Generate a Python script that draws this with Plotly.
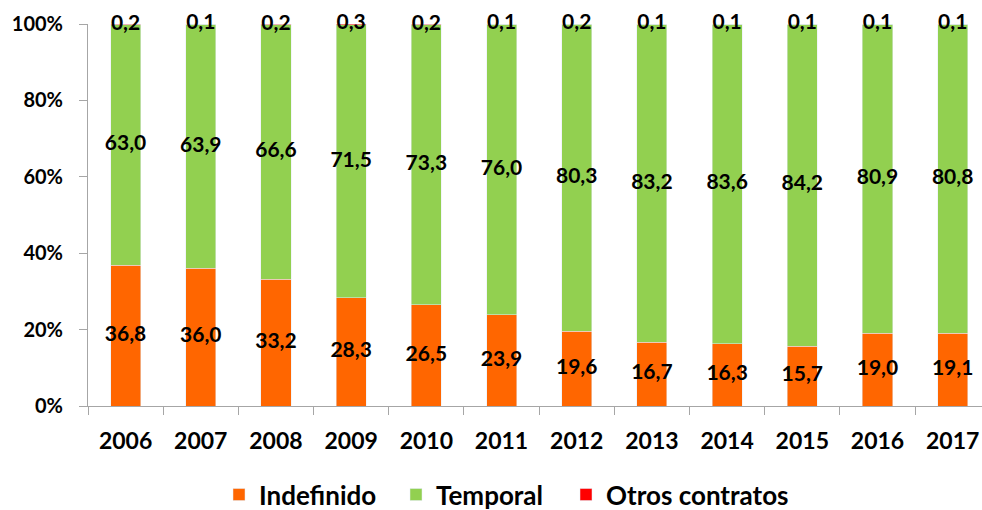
import plotly.graph_objects as go

years = ["2006", "2007", "2008", "2009", "2010", "2011", "2012", "2013", "2014", "2015", "2016", "2017"]
indefinido = [36.8, 36.0, 33.2, 28.3, 26.5, 23.9, 19.6, 16.7, 16.3, 15.7, 19.0, 19.1]
temporal = [63.0, 63.9, 66.6, 71.5, 73.3, 76.0, 80.3, 83.2, 83.6, 84.2, 80.9, 80.8]
otros = [0.2, 0.1, 0.2, 0.3, 0.2, 0.1, 0.2, 0.1, 0.1, 0.1, 0.1, 0.1]

FONT = "Lato"
lab_font = dict(family=FONT, size=21, color="black", weight="bold")

fig = go.Figure()
fig.add_trace(go.Bar(x=years, y=indefinido, name="Indefinido", marker_color="#FF6600", legend="legend"))
fig.add_trace(go.Bar(x=years, y=temporal, name="Temporal", marker_color="#92D050", legend="legend2"))
fig.add_trace(go.Bar(x=years, y=otros, name="Otros contratos", marker_color="#FF0000", legend="legend3"))

def add_labels(ypos, vals):
    fig.add_trace(go.Scatter(x=years, y=ypos, mode="text", text=vals, texttemplate="%{text:.1f}",
                             textfont=lab_font, textposition="middle center", showlegend=False,
                             cliponaxis=False, hoverinfo="skip"))

add_labels([a / 2 for a in indefinido], indefinido)
add_labels([a + b / 2 for a, b in zip(indefinido, temporal)], temporal)
add_labels([a + b + c / 2 for a, b, c in zip(indefinido, temporal, otros)], otros)

leg_font = dict(family=FONT, size=26, color="black", weight="bold")
def leg(xpx):
    return dict(orientation="h", xref="container", yref="paper", x=xpx / 982, xanchor="left",
                y=-0.232, yanchor="middle", font=leg_font, itemwidth=30, bgcolor="rgba(0,0,0,0)")

fig.update_layout(
    barmode="stack",
    bargap=0.6,
    separators=",.",
    width=982, height=510,
    margin=dict(l=88, r=0, t=24, b=104, autoexpand=False),
    plot_bgcolor="white", paper_bgcolor="white",
    font=dict(family=FONT, size=20, color="black", weight="bold"),
    showlegend=True,
    legend=leg(219), legend2=leg(396), legend3=leg(566),
)
fig.update_xaxes(range=[-0.5, 11.39], showline=True, linecolor="#A6A6A6", linewidth=1,
                 ticks="outside", tickson="boundaries", ticklen=8, tickcolor="#A6A6A6",
                 automargin=False, ticklabelstandoff=14,
                 tickfont=dict(family=FONT, size=23, color="black", weight="bold"), showgrid=False)
fig.update_yaxes(range=[0, 100], dtick=20, ticksuffix="%", showline=True, linecolor="#A6A6A6",
                 linewidth=1, ticks="outside", ticklen=8, tickcolor="#A6A6A6", showgrid=False,
                 zeroline=False, ticklabelstandoff=12, automargin=False,
                 tickfont=dict(family=FONT, size=20, color="black", weight="bold"))

fig.write_html("out.html", post_script="document.body.style.margin='0px';",
               config={"displayModeBar": False})
